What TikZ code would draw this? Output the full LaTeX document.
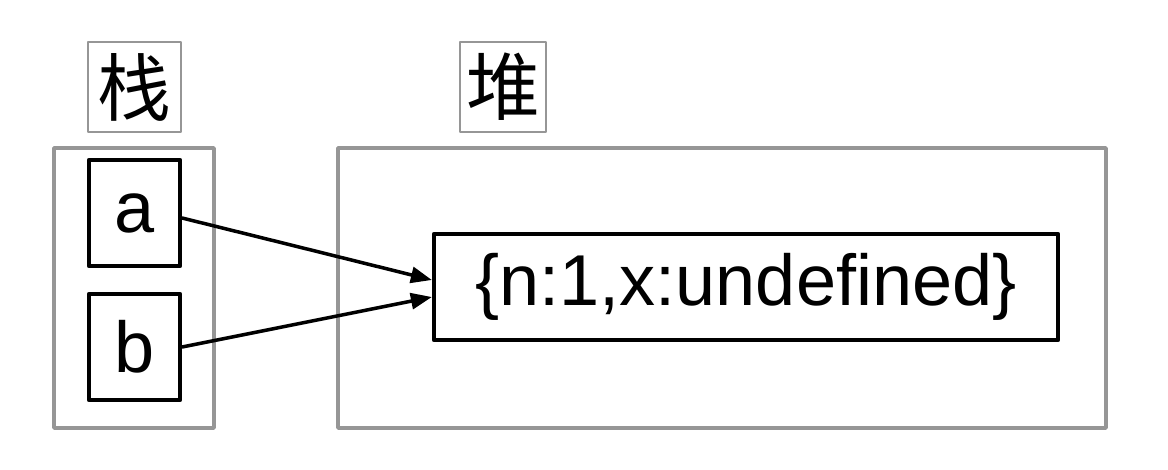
\documentclass[tikz,border=0pt]{standalone}
\usepackage{fontspec}
\setmainfont{Liberation Sans}
\newfontfamily\cjk{Noto Sans CJK SC}
\usetikzlibrary{arrows.meta}
\definecolor{boxgray}{RGB}{150,150,150}
\begin{document}
\begin{tikzpicture}[x=0.2mm,y=-0.2mm,line cap=round,line join=round,
    area/.style={draw=boxgray,line width=2pt,minimum width=#1,minimum height=56mm},
    title/.style={draw=boxgray,line width=1.4pt,minimum height=18mm,inner sep=0pt,
      font=\cjk\fontsize{42}{50}\selectfont},
    cell/.style={draw,line width=2.4pt,minimum width=#1,minimum height=21.2mm,inner sep=0pt,
      font=\fontsize{41}{49}\selectfont},
    ref/.style={line width=2pt,-{Triangle[length=4.2mm,width=3.2mm]}}]
        \useasboundingbox (0,0) rectangle (1168,470);
        % stack and heap
        \node[area=32mm] (stack) at (134,288) {};
        \node[area=153.6mm] (heap) at (722,288) {};
        \node[title,minimum width=18.6mm] (stacklabel) at (134.5,87) {栈};
        \node[title,minimum width=17.2mm] (heaplabel) at (503,87) {堆};
        \node[cell=18.2mm] (a) at (134.5,213) {a};
        \node[cell=18.2mm] (b) at (134.5,347) {b};
        \node[cell=124.8mm] (obj) at (746,287) {\{n:1,x:undefined\}};

        \draw[ref] ([yshift=-1mm]a.east) -- ([yshift=1.4mm]obj.west);
        \draw[ref] (b.east) -- ([yshift=-2mm]obj.west);
      \end{tikzpicture}
\end{document}
